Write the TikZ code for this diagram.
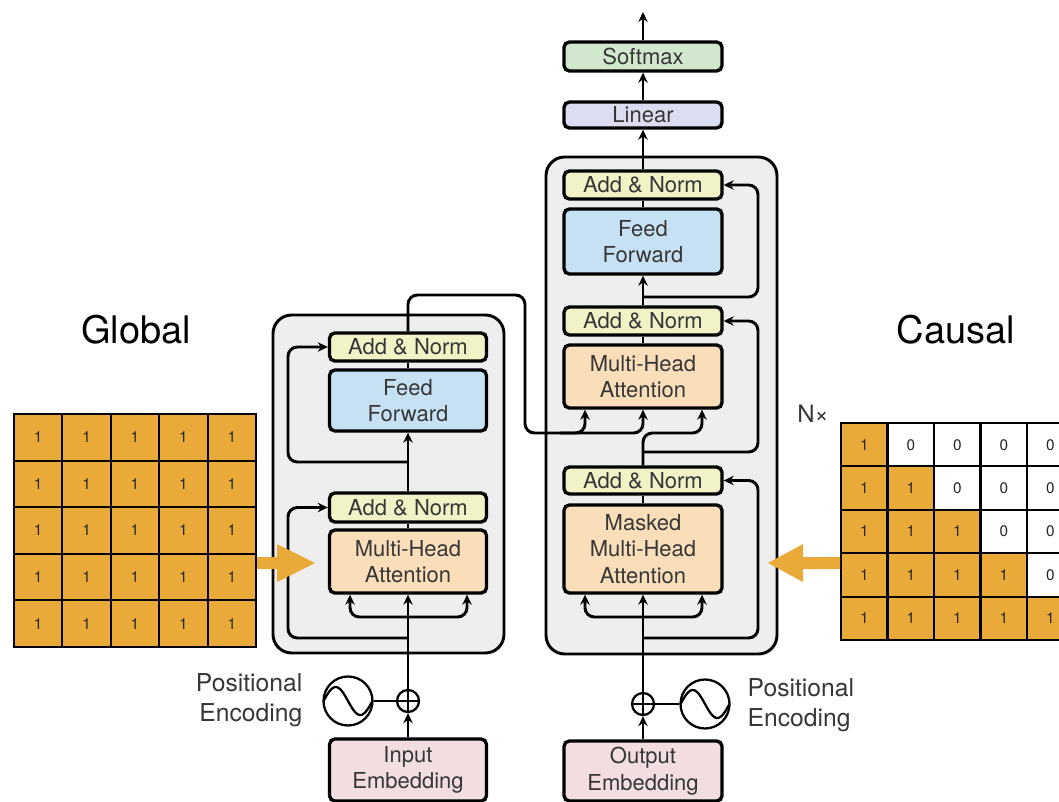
\documentclass[tikz,border=0pt]{standalone}
\usepackage{fontspec}
\setmainfont{TeX Gyre Heros}
\usetikzlibrary{arrows.meta,calc}

\definecolor{anfill}{RGB}{241,243,199}
\definecolor{fffill}{RGB}{198,225,243}
\definecolor{attfill}{RGB}{250,222,186}
\definecolor{embfill}{RGB}{242,222,224}
\definecolor{linfill}{RGB}{221,221,241}
\definecolor{smxfill}{RGB}{210,232,206}
\definecolor{stackfill}{RGB}{238,238,238}
\definecolor{maskfill}{RGB}{234,170,58}
\definecolor{txt}{RGB}{55,55,55}

\begin{document}
\begin{tikzpicture}[x=0.75pt, y=-0.75pt,
  sz/.style 2 args={minimum width=#1*0.75pt, minimum height=#2*0.75pt},
  blk/.style={draw=black, line width=2.5pt, rounded corners=4pt, inner sep=0pt,
              align=center, font=\fontsize{16.5}{20}\selectfont, text=txt},
  stackbox/.style={draw=black, line width=2.2pt, fill=stackfill, rounded corners=14pt},
  wire/.style={line width=2.2pt, rounded corners=7pt},
  arr/.style={wire, -{Stealth[length=7.5pt,width=7pt]}},
  plusnode/.style={circle, draw, line width=1.7pt, minimum size=22*0.75pt, inner sep=0pt},
  sinenode/.style={circle, draw, line width=1.7pt, minimum size=49*0.75pt, inner sep=0pt},
  cellg/.style={draw=black, line width=1.6pt, inner sep=0pt, sz={48.4}{46.6},
                font=\fontsize{11.5}{12}\selectfont, text=black!85},
  cellc/.style={draw=black, line width=1.6pt, inner sep=0pt, sz={46.5}{43.4},
                font=\fontsize{11.5}{12}\selectfont, text=black!85},
  lbl/.style={text=txt, align=left, font=\fontsize{18.5}{22.5}\selectfont},
]
\useasboundingbox (0,0) rectangle (1059,802);
\clip (0,0) rectangle (1059,802);

% ---------- stacks ----------
\draw[stackbox] (273,315) rectangle (504,653);
\draw[stackbox] (546,157) rectangle (777,654);

% ---------- encoder ----------
\node[blk, fill=anfill,  sz={157}{28}] (encAN2) at (408,347)   {Add \& Norm};
\node[blk, fill=fffill,  sz={157}{61}] (encFF)  at (408,400.5) {Feed\\Forward};
\node[blk, fill=anfill,  sz={157}{29}] (encAN1) at (408,507.5) {Add \& Norm};
\node[blk, fill=attfill, sz={157}{63}] (encMHA) at (408,561.5) {Multi-Head\\Attention};
\node[blk, fill=embfill, sz={157}{62}] (inEmb)  at (408,770)   {Input\\Embedding};

% ---------- decoder ----------
\node[blk, fill=smxfill, sz={158}{29}] (smx)     at (643,56.5)  {Softmax};
\node[blk, fill=linfill, sz={158}{26}] (lin)     at (643,115)   {Linear};
\node[blk, fill=anfill,  sz={158}{28}] (decAN3)  at (643,185)   {Add \& Norm};
\node[blk, fill=fffill,  sz={158}{65}] (decFF)   at (643,241.5) {Feed\\Forward};
\node[blk, fill=anfill,  sz={158}{28}] (decAN2)  at (643,321)   {Add \& Norm};
\node[blk, fill=attfill, sz={158}{63}] (decMHA2) at (643,376.5) {Multi-Head\\Attention};
\node[blk, fill=anfill,  sz={158}{27}] (decAN1)  at (643,480.5) {Add \& Norm};
\node[blk, fill=attfill, sz={158}{88}] (decMHA1) at (643,549)   {Masked\\Multi-Head\\Attention};
\node[blk, fill=embfill, sz={158}{60}] (outEmb)  at (643,771)   {Output\\Embedding};

% ---------- positional encodings ----------
\node[plusnode] (encPlus) at (408,701) {};
\draw[line width=1.4pt] (encPlus.north) -- (encPlus.south) (encPlus.west) -- (encPlus.east);
\node[sinenode] (encSine) at (348,701) {};
\draw[line width=1.7pt] plot[domain=-1:1, samples=40, smooth] ({348+24.5*\x},{701+14*sin(180*\x)});
\draw[line width=1.7pt] (encSine.east) -- (encPlus.west);
\node[lbl, align=right, anchor=east] (encPosLbl) at (307,700) {Positional\\Encoding};

\node[plusnode] (decPlus) at (643,704) {};
\draw[line width=1.4pt] (decPlus.north) -- (decPlus.south) (decPlus.west) -- (decPlus.east);
\node[sinenode] (decSine) at (705,704) {};
\draw[line width=1.7pt] plot[domain=-1:1, samples=40, smooth] ({705+24.5*\x},{704+14*sin(180*\x)});
\draw[line width=1.7pt] (decSine.west) -- (decPlus.east);
\node[lbl, anchor=west] (decPosLbl) at (743,705) {Positional\\Encoding};

% ---------- encoder wiring ----------
\draw[arr] (inEmb.north) -- (encPlus.south);
\draw[arr] (encPlus.north) -- (encMHA.south);
\draw[arr] (408,617) -| ($(encMHA.south)+(-58,0)$);
\draw[arr] (408,617) -| ($(encMHA.south)+(59,0)$);
\draw[arr] (408,638) -| (288,507.5) -- (encAN1.west);
\draw[wire] (encMHA.north) -- (encAN1.south);
\draw[arr] (encAN1.north) -- (encFF.south);
\draw[arr] (408,462) -| (288,347) -- (encAN2.west);
\draw[wire] (encFF.north) -- (encAN2.south);

% encoder output into the cross attention (keys and values)
\draw[arr] (encAN2.north) |- (470,295) -| (525,400) |- (560,433) -| ($(decMHA2.south)+(-58,0)$);
\draw[arr] (560,433) -| (decMHA2.south);

% ---------- decoder wiring ----------
\draw[arr] (outEmb.north) -- (decPlus.south);
\draw[arr] (decPlus.north) -- (decMHA1.south);
\draw[arr] (643,617) -| ($(decMHA1.south)+(-58,0)$);
\draw[arr] (643,617) -| ($(decMHA1.south)+(59,0)$);
\draw[arr] (643,638) -| (758,480.5) -- (decAN1.east);
\draw[wire] (decMHA1.north) -- (decAN1.south);
\draw[arr] (decAN1.north) |- (672,433) -| ($(decMHA2.south)+(59,0)$);
\draw[arr] (643,452) -| (758,321) -- (decAN2.east);
\draw[wire] (decMHA2.north) -- (decAN2.south);
\draw[arr] (decAN2.north) -- (decFF.south);
\draw[arr] (643,297) -| (758,185) -- (decAN3.east);
\draw[wire] (decFF.north) -- (decAN3.south);
\draw[arr] (decAN3.north) -- (lin.south);
\draw[arr] (lin.north) -- (smx.south);
\coordinate (outTop) at (643,12);
\draw[arr] (smx.north) -- (outTop);

% ---------- masks ----------
\foreach \i in {1,...,5}{
  \foreach \j in {1,...,5}{
    \node[cellg, fill=maskfill] (g\i\j) at ({14+48.4*(\j-0.5)},{414+46.6*(\i-0.5)}) {1};
  }
}
\foreach \i in {1,...,5}{
  \foreach \j in {1,...,5}{
    \ifnum\j>\i
      \node[cellc, fill=white] (c\i\j) at ({841+46.5*(\j-0.5)},{423+43.4*(\i-0.5)}) {0};
    \else
      \node[cellc, fill=maskfill] (c\i\j) at ({841+46.5*(\j-0.5)},{423+43.4*(\i-0.5)}) {1};
    \fi
  }
}

% mask arrows
\fill[maskfill] (257,557) -- (277,557) -- (277,544) -- (315,563) -- (277,582) -- (277,569) -- (257,569) -- cycle;
\fill[maskfill] (840,557) -- (803,557) -- (803,544) -- (768,563) -- (803,582) -- (803,569) -- (840,569) -- cycle;

% ---------- labels ----------
\node[font=\fontsize{28.5}{34}\selectfont] (glob) at (136,330) {Global};
\node[font=\fontsize{28.5}{34}\selectfont] (caus) at (956,330) {Causal};
\node[text=txt, font=\fontsize{18}{20}\selectfont] (nx) at (813,414) {N×};
\end{tikzpicture}
\end{document}
